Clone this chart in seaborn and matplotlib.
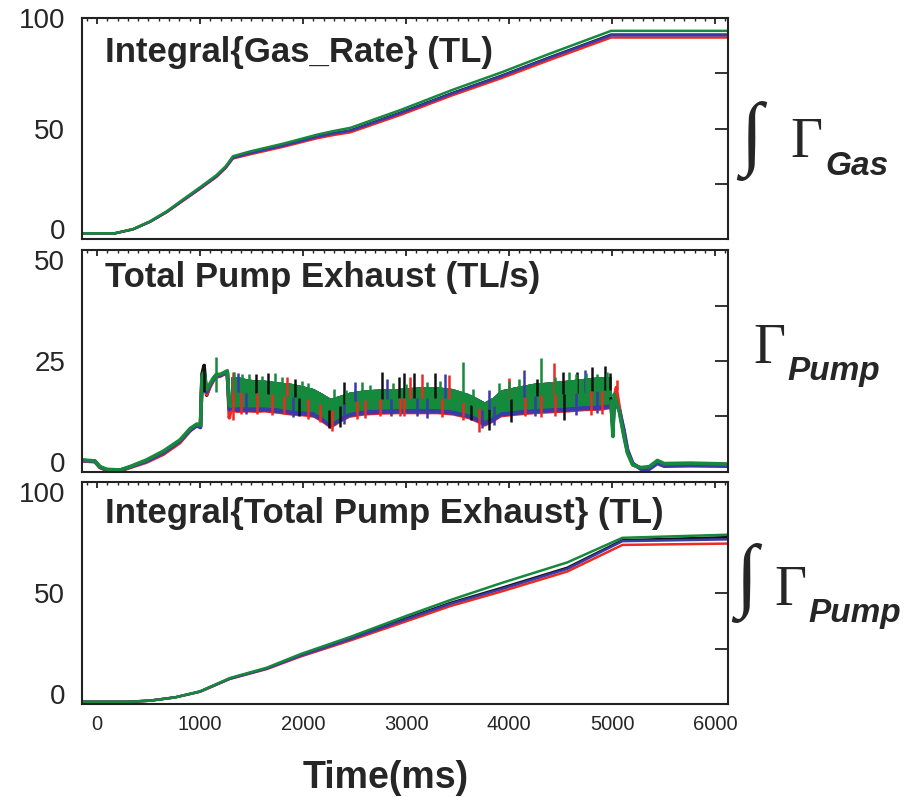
import numpy as np
import matplotlib
matplotlib.use("Agg")
import matplotlib.pyplot as plt
from matplotlib import font_manager
from matplotlib.ticker import MultipleLocator
import seaborn as sns

# ---- panel 1: Integral{Gas_Rate} (TL) ----
gas_t = [-145, 0, 175, 350, 515, 680, 840, 1000, 1160, 1250, 1320, 1480, 1810,
         2135, 2300, 2460, 2950, 3450, 3920, 4400, 4990, 6125]
gas_black = [2.8, 2.8, 2.8, 4.6, 8.0, 12.5, 17.8, 23.0, 28.5, 32.5, 36.8, 38.9, 42.4,
             46.3, 47.9, 49.1, 57.2, 66.0, 73.7, 82.2, 92.3, 92.3]
gas_red = [2.8, 2.8, 2.8, 4.6, 8.0, 12.4, 17.6, 22.8, 28.2, 32.2, 36.5, 38.3, 41.8,
           45.6, 47.1, 48.3, 56.2, 65.0, 72.6, 81.0, 91.0, 91.0]
gas_blue = [2.8, 2.8, 2.8, 4.6, 8.0, 12.5, 17.8, 23.0, 28.5, 32.5, 36.8, 38.8, 42.3,
            46.2, 47.8, 49.0, 57.0, 65.8, 73.5, 82.0, 92.0, 92.0]
gas_green = [2.8, 2.8, 2.8, 4.7, 8.2, 12.8, 18.2, 23.5, 29.0, 33.0, 37.5, 39.6, 43.2,
             47.2, 48.9, 50.3, 58.4, 67.4, 75.2, 83.8, 94.0, 94.0]

# ---- panel 2: Total Pump Exhaust (TL/s) ----
pre_t = [-145, -20, 30, 95, 225, 320, 480, 645, 805, 905, 970, 1005, 1020, 1040,
         1065, 1100, 1130, 1160, 1200, 1265, 1285, 1300]
pre_black = [2.6, 2.4, 1.1, 0.5, 0.4, 1.1, 2.5, 4.4, 7.0, 9.5, 10.6, 10.2, 22.0, 24.0,
             17.3, 19.5, 20.8, 21.6, 21.8, 22.6, 14.5, 14.5]
pre_red = [2.5, 2.3, 1.0, 0.4, 0.3, 1.0, 2.2, 4.0, 6.6, 9.3, 10.5, 10.3, 21.0, 22.0,
           17.5, 19.3, 20.6, 21.4, 21.6, 22.5, 12.2, 14.0]
pre_blue = [2.6, 2.4, 1.1, 0.4, 0.3, 1.1, 2.4, 4.3, 6.9, 9.4, 10.4, 10.0, 20.8, 21.8,
            18.0, 19.6, 20.8, 21.6, 21.8, 22.4, 14.0, 14.3]
pre_green = [2.7, 2.5, 1.2, 0.6, 0.45, 1.2, 2.7, 4.7, 7.2, 9.8, 10.8, 10.5, 21.5, 22.5,
             18.5, 20.0, 21.2, 22.0, 22.0, 22.8, 15.0, 14.8]

band_t = [1300, 1360, 1450, 1550, 1620, 1750, 1880, 2000, 2100, 2180, 2265, 2360, 2450,
          2590, 2750, 2910, 3140, 3300, 3450, 3600, 3680, 3760, 3840, 3920, 4080, 4240,
          4400, 4570, 4730, 4890, 4990]
green_hi = [21.5, 21.5, 21.0, 20.7, 20.7, 20.3, 20.0, 19.4, 18.8, 17.8, 16.6, 17.3, 18.0,
            18.5, 18.7, 18.8, 19.2, 19.2, 18.8, 17.7, 16.8, 15.8, 16.8, 18.5, 19.3, 20.0,
            20.3, 20.7, 21.1, 21.5, 21.5]
green_lo = [14.7, 14.7, 14.7, 14.7, 14.7, 14.5, 14.0, 13.8, 13.6, 12.5, 11.0, 12.5, 13.5,
            14.0, 14.2, 14.3, 14.3, 14.3, 14.0, 13.2, 12.5, 11.7, 12.5, 13.6, 14.0, 14.3,
            14.5, 14.7, 15.0, 15.1, 15.5]
red_lo = [13.6, 13.4, 13.5, 13.4, 13.5, 13.2, 12.8, 12.6, 12.3, 11.2, 9.8, 11.2, 12.3,
          12.8, 13.0, 13.1, 13.1, 13.1, 12.8, 12.0, 11.2, 10.3, 11.2, 12.4, 12.8, 13.1,
          13.3, 13.5, 13.8, 13.9, 14.3]
blue_lo = [13.8, 13.6, 13.7, 13.6, 13.7, 13.4, 13.0, 12.8, 12.5, 11.4, 10.0, 11.4, 12.5,
           13.0, 13.2, 13.3, 13.3, 13.3, 13.0, 12.2, 11.4, 10.5, 11.4, 12.6, 13.0, 13.3,
           13.5, 13.7, 14.0, 14.1, 14.5]
black_lo = [14.0, 13.9, 13.9, 13.8, 13.9, 13.6, 13.2, 13.0, 12.7, 11.6, 10.2, 11.6, 12.7,
            13.2, 13.4, 13.5, 13.5, 13.5, 13.2, 12.4, 11.6, 10.7, 11.6, 12.8, 13.2, 13.5,
            13.7, 13.9, 14.2, 14.3, 14.7]

# single spikes sticking out of the noisy band
black_up_t = [1040, 1546, 1665, 1925, 2394, 2767, 2929, 2978, 3075, 3285, 4274, 4526,
              4663, 4809, 4928, 4980]
black_up_v = [24.3, 22.0, 22.2, 20.9, 20.3, 22.6, 21.5, 22.2, 22.4, 22.2, 21.0, 22.6,
              22.6, 23.7, 23.9, 22.2]
red_up_t = [1325, 1844, 3042, 3156, 3415, 3998, 4435, 5051]
red_up_v = [22.6, 21.5, 21.5, 22.0, 21.8, 21.1, 24.5, 20.7]
blue_up_t = [1374, 2508, 2816, 3382, 3803, 4144, 4734]
blue_up_v = [22.2, 20.3, 21.0, 22.0, 18.5, 23.0, 23.0]
green_up_t = [1157, 1330, 1406, 1480, 1600, 1730, 1800, 1990, 2050, 2297, 2420, 2573,
              2650, 2870, 3000, 3200, 3330, 3554, 3650, 3900, 4000, 4100, 4313, 4450,
              4581, 4650, 4750, 4857, 4950]
green_up_v = [26.0, 22.5, 22.0, 22.0, 21.6, 22.2, 21.5, 20.5, 20.0, 18.6, 18.5, 20.2,
              19.6, 20.0, 19.8, 20.2, 20.5, 24.8, 18.6, 20.0, 20.5, 21.0, 25.6, 21.5,
              22.6, 22.0, 22.3, 22.0, 22.5]
black_dn_t = [1957, 2248, 2362, 3626, 3803, 4014, 4533]
black_dn_v = [12.5, 9.8, 10.1, 11.7, 9.5, 11.3, 11.7]
red_dn_t = [1325, 1400, 1552, 1700, 1811, 2050, 2168, 2281, 2524, 2600, 2751, 2945,
            2978, 3350, 3550, 3707, 4150, 4306, 4450, 4792, 4900]
red_dn_v = [11.7, 13.0, 13.0, 12.8, 13.0, 12.0, 11.3, 9.3, 12.0, 12.2, 12.6, 12.5,
            12.5, 12.4, 11.6, 9.1, 12.5, 12.3, 12.6, 12.8, 13.0]
blue_dn_t = [1450, 1900, 2400, 2850, 3107, 3205, 3740, 3850, 4250, 4650, 4850]
blue_dn_v = [13.0, 12.4, 10.8, 12.6, 12.6, 12.1, 10.0, 10.6, 12.5, 12.8, 13.2]

post_t = [4990, 5008, 5020, 5040, 5070, 5115, 5150, 5200, 5280, 5360, 5440, 5505, 5760, 6125]
post_black = [16.5, 10.5, 16.5, 16.5, 14.0, 8.5, 4.5, 1.7, 0.8, 0.9, 2.2, 1.5, 1.6, 1.5]
post_red = [15.5, 10.0, 16.0, 19.0, 14.5, 9.0, 4.8, 1.8, 0.8, 0.9, 2.3, 1.6, 1.7, 1.6]
post_blue = [15.0, 9.5, 15.5, 15.0, 14.0, 9.5, 5.0, 2.0, 0.6, 0.6, 1.9, 1.3, 1.4, 1.3]
post_green = [16.0, 8.0, 17.5, 16.0, 13.5, 8.0, 4.2, 1.6, 1.0, 1.2, 2.6, 1.9, 2.0, 1.8]

# ---- panel 3: Integral{Total Pump Exhaust} (TL) ----
pint_t = [-145, 300, 515, 760, 1000, 1290, 1650, 1975, 2460, 3000, 3430, 3920, 4565,
          5100, 6125]
pint_black = [1.0, 1.0, 1.5, 3.0, 5.6, 11.5, 16.1, 22.0, 29.6, 38.6, 45.6, 52.3, 61.5,
              73.9, 75.3]
pint_red = [1.0, 1.0, 1.5, 3.0, 5.5, 11.3, 15.8, 21.4, 28.7, 37.3, 44.2, 50.7, 59.8,
            71.8, 72.4]
pint_blue = [1.0, 1.0, 1.5, 3.0, 5.6, 11.4, 16.0, 21.8, 29.3, 38.2, 45.2, 51.8, 61.0,
             73.5, 74.3]
pint_green = [1.0, 1.0, 1.5, 3.0, 5.7, 11.7, 16.4, 22.5, 30.3, 39.7, 46.9, 54.5, 63.9,
              75.0, 76.4]

colors = {"black": "#111111", "red": "#ee2a22", "blue": "#3a3aa8", "green": "#15893c"}

sns.set_style("white")
plt.rcParams["font.family"] = ["Liberation Sans", "DejaVu Sans"]

names = {f.name for f in font_manager.fontManager.ttflist}
if "Liberation Sans Narrow" in names:
    title_font, title_size = "Liberation Sans Narrow", 29
else:
    title_font, title_size = "Liberation Sans", 25

fig = plt.figure(figsize=(9.17, 7.97), dpi=100)
ax1 = fig.add_axes([0.0894, 0.6995, 0.7045, 0.2785])
ax2 = fig.add_axes([0.0894, 0.4078, 0.7045, 0.2785])
ax3 = fig.add_axes([0.0894, 0.1167, 0.7045, 0.2780])

order = ["black", "red", "blue", "green"]

gas = {"black": gas_black, "red": gas_red, "blue": gas_blue, "green": gas_green}
for c in order:
    sns.lineplot(x=gas_t, y=gas[c], ax=ax1, color=colors[c], lw=1.8)

pint = {"black": pint_black, "red": pint_red, "blue": pint_blue, "green": pint_green}
for c in order:
    sns.lineplot(x=pint_t, y=pint[c], ax=ax3, color=colors[c], lw=1.8)

pre = {"black": pre_black, "red": pre_red, "blue": pre_blue, "green": pre_green}
post = {"black": post_black, "red": post_red, "blue": post_blue, "green": post_green}
lows = {"black": black_lo, "red": red_lo, "blue": blue_lo, "green": green_lo}
ups = {"black": (black_up_t, black_up_v), "red": (red_up_t, red_up_v),
       "blue": (blue_up_t, blue_up_v), "green": (green_up_t, green_up_v)}
downs = {"black": (black_dn_t, black_dn_v), "red": (red_dn_t, red_dn_v),
         "blue": (blue_dn_t, blue_dn_v), "green": ([], [])}
mid = (np.array(green_hi) + np.array(green_lo)) / 2
for c in order:
    sns.lineplot(x=pre_t, y=pre[c], ax=ax2, color=colors[c], lw=2.6)
    ax2.fill_between(band_t, lows[c], green_hi, color=colors[c], lw=0)
    sns.lineplot(x=post_t, y=post[c], ax=ax2, color=colors[c], lw=2.6)
for c in order:
    ut, uv = ups[c]
    ax2.vlines(ut, np.interp(ut, band_t, mid), uv, color=colors[c], lw=1.8)
    dt, dv = downs[c]
    if dt:
        ax2.vlines(dt, dv, np.interp(dt, band_t, mid), color=colors[c], lw=1.8)
ax2.fill_between(band_t, green_lo, green_hi, color=colors["green"], lw=0)

for ax, ymax, step in [(ax1, 100, 25), (ax2, 50, 12.5), (ax3, 100, 25)]:
    ax.set_xlim(-145, 6125)
    ax.set_ylim(0, ymax)
    ax.set_yticks([0, step, 2 * step, 3 * step, 4 * step])
    ax.set_yticklabels(["0", "", f"{2 * step:g}", "", f"{ymax:g}"])
    ax.xaxis.set_major_locator(MultipleLocator(1000))
    ax.xaxis.set_minor_locator(MultipleLocator(100))
    ax.tick_params(axis="both", which="both", direction="in", top=True, right=True,
                   color="#222222")
    ax.tick_params(axis="y", which="major", length=9.5, width=1.3, labelsize=20, pad=12)
    ax.tick_params(axis="x", which="major", length=4.5, width=1.3, labelsize=14.5, pad=8)
    ax.tick_params(axis="x", which="minor", length=2.2, width=1.0)
    ax.yaxis.get_major_ticks()[0].label1.set_va("baseline")
    for s in ax.spines.values():
        s.set_linewidth(1.5)
        s.set_color("#222222")
    ax.set_xlabel("")
    ax.set_ylabel("")
ax1.tick_params(axis="x", labelbottom=False)
ax2.tick_params(axis="x", labelbottom=False)
# top labels of the lower panels sit just under the upper frame
ax2.yaxis.get_major_ticks()[-1].label1.set_va("top")
ax3.yaxis.get_major_ticks()[-1].label1.set_va("top")

tkw = dict(fontfamily=title_font, fontweight="bold", fontsize=title_size, va="baseline")
ax1.text(0.036, 0.80, "Integral{Gas_Rate} (TL)", transform=ax1.transAxes, **tkw)
ax2.text(0.036, 0.833, "Total Pump Exhaust (TL/s)", transform=ax2.transAxes, **tkw)
ax3.text(0.036, 0.817, "Integral{Total Pump Exhaust} (TL)", transform=ax3.transAxes, **tkw)
fig.text(0.421, 0.0113, "Time(ms)", ha="center",
         **dict(tkw, fontsize=title_size + 2))

# right-hand symbols
serif = ["Liberation Serif", "DejaVu Serif"]
sub = dict(fontfamily="Liberation Sans", fontweight="bold", fontstyle="italic",
           fontsize=24, va="baseline")
fig.text(0.807, 0.823, "\u222b", fontfamily=serif, fontsize=58, va="center")
fig.text(0.8615, 0.803, "\u0393", fontfamily=serif, fontsize=40, va="baseline")
fig.text(0.8997, 0.7804, "Gas", **sub)
fig.text(0.8212, 0.5445, "\u0393", fontfamily=serif, fontsize=40, va="baseline")
fig.text(0.8582, 0.5232, "Pump", **sub)
fig.text(0.8015, 0.2685, "\u222b", fontfamily=serif, fontsize=58, va="center")
fig.text(0.845, 0.2409, "\u0393", fontfamily=serif, fontsize=40, va="baseline")
fig.text(0.8811, 0.2196, "Pump", **sub)

fig.savefig("out.png", dpi=100)
